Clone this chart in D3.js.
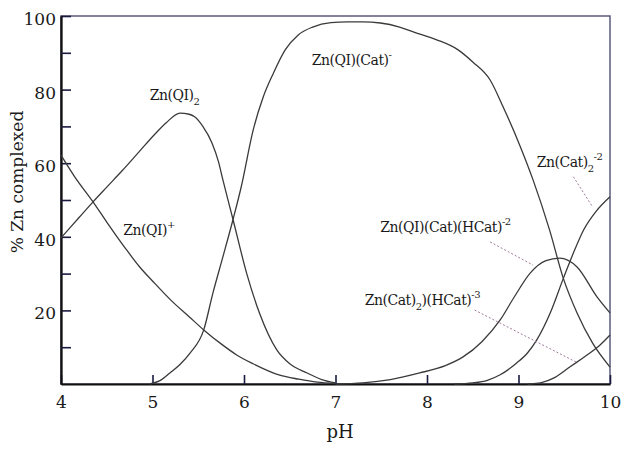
<!DOCTYPE html>
<html><head><meta charset="utf-8">
<script src="https://cdn.jsdelivr.net/npm/d3@7"></script>
<style>
body{margin:0;background:#fff}
svg{display:block}
</style>
</head><body>
<svg id="chart" width="628" height="453"></svg>
<script>
// ---- data (pH, % Zn complexed) ----
const pH_QIplus = [4.0,4.15,4.35,4.5,4.7,4.86,5.0,5.2,5.4,5.56,5.75,5.92,6.1,6.39,6.6,6.8,7.0];
const val_QIplus = [62.2,56.3,49.5,44.0,37.0,31.8,28.0,22.8,18.3,14.7,10.9,7.9,5.5,2.4,1.3,0.5,0.1];

const pH_QI2 = [4.0,4.2,4.35,4.5,4.67,4.85,5.03,5.15,5.3,5.4,5.46,5.55,5.65,5.72,5.77,5.88,6.03,6.17,6.36,6.5,6.69,6.85,7.0];
const val_QI2 = [39.7,45.3,49.5,53.5,58.0,63.0,68.0,71.0,73.6,73.3,72.6,70.0,65.5,60.5,55.4,44.7,30.0,19.2,9.2,5.5,3.0,1.2,0.3];

const pH_QICat = [4.97,5.1,5.19,5.3,5.41,5.56,5.66,5.77,5.88,5.97,6.1,6.21,6.32,6.45,6.59,6.75,6.95,7.13,7.3,7.49,7.7,7.85,8.1,8.34,8.5,8.69,8.83,9.02,9.16,9.34,9.49,9.64,9.81,10.0];
const val_QICat = [0,1.2,3.0,5.3,8.4,14.7,24.7,34.6,44.7,53.6,69.0,78.0,84.4,90.8,94.8,97.0,98.2,98.4,98.4,98.1,97.0,95.7,93.6,90.8,87.5,82.6,75.4,64.5,55.4,41.8,28.7,19.3,11.1,4.6];

const pH_QICatHCat = [7.0,7.3,7.6,7.92,8.2,8.39,8.6,8.8,8.95,9.13,9.3,9.45,9.64,9.86,10.0];
const val_QICatHCat = [0,0.3,1.2,3.0,5.0,7.3,11.5,17.4,23.5,30.2,33.5,34.2,31.8,23.6,19.3];

const pH_Cat2 = [8.3,8.5,8.66,8.8,8.98,9.1,9.2,9.35,9.49,9.6,9.71,9.85,10.0];
const val_Cat2 = [0,0.3,1.0,2.5,5.7,8.5,12.0,19.5,28.7,35.6,41.8,47.0,50.9];

const pH_Cat2HCat = [9.1,9.25,9.4,9.56,9.7,9.78,9.9,10.0];
const val_Cat2HCat = [0,0.4,1.8,4.6,7.0,8.4,10.8,13.3];

const xTicks = [4,5,6,7,8,9,10];
const yTicks = [20,40,60,80,100];
const yMinorTicks = [10,30,50,70,90];
const xTitle = "pH";
const yTitle = "% Zn complexed";

// series names as rich text parts: [text, kind]
const seriesLabels = [
  {parts:[["Zn(QI)",""],["2","sub"]], at:[4.97,77.2]},
  {parts:[["Zn(QI)",""],["+","sup"]], at:[4.68,40.5]},
  {parts:[["Zn(QI)(Cat)",""],["-","sup"]], at:[6.74,86.7]},
  {parts:[["Zn(Cat)",""],["2","sub"],["-2","sup"]], at:[9.20,58.9]},
  {parts:[["Zn(QI)(Cat)(HCat)",""],["-2","sup"]], at:[7.49,41.4]},
  {parts:[["Zn(Cat)",""],["2","sub"],[")(HCat)",""],["-3","sup"]], at:[7.32,21.5]}
];
const leaders = [
  [[9.60,56.3],[9.81,48.1]],
  [[8.69,38.6],[9.16,32.3]],
  [[8.52,20.1],[9.65,5.7]]
];

// ---- drawing ----
const FONT = '"DejaVu Serif", serif';
const svg = d3.select("#chart");
const x = d3.scaleLinear().domain([4,10]).range([61,610]);
const y = d3.scaleLinear().domain([0,100]).range([384,16]);

// frame
svg.append("rect").attr("x",x(4)).attr("y",y(100))
  .attr("width",x(10)-x(4)).attr("height",y(0)-y(100))
  .attr("fill","none").attr("stroke","#5a5a7a").attr("stroke-width",1.5);

// axes
const fs = 17;
const gx = svg.append("g").attr("transform",`translate(0,${y(0)})`)
  .call(d3.axisBottom(x).tickValues(xTicks).tickFormat(d3.format("d")).tickSize(-9).tickSizeOuter(0).tickPadding(12));
const gy = svg.append("g").attr("transform",`translate(${x(4)},0)`)
  .call(d3.axisLeft(y).tickValues(yTicks).tickFormat(d3.format("d")).tickSize(-10).tickSizeOuter(0).tickPadding(5));
const gym = svg.append("g").attr("transform",`translate(${x(4)},0)`)
  .call(d3.axisLeft(y).tickValues(yMinorTicks).tickFormat("").tickSize(-10).tickSizeOuter(0));
[gx,gy,gym].forEach(g=>{
  g.attr("font-family",null);
  g.select(".domain").attr("stroke","#111").attr("stroke-width",1.8);
  g.selectAll(".tick line").attr("stroke","#1a1a40").attr("stroke-width",1.6);
  g.selectAll(".tick text").attr("font-size",fs).attr("fill","#1a1a1a");
});
gy.selectAll(".tick text").attr("dy","0.5em");

// titles
svg.append("text").attr("x",340).attr("y",438).attr("text-anchor","middle")
  .attr("font-size",18).text(xTitle);
svg.append("text").attr("transform","translate(23,182) rotate(-90)").attr("text-anchor","middle")
  .attr("font-size",17).text(yTitle);

// curves
const line = d3.line().x(d=>x(d[0])).y(d=>y(d[1])).curve(d3.curveMonotoneX);
const series = [
  [pH_QIplus,val_QIplus],[pH_QI2,val_QI2],[pH_QICat,val_QICat],
  [pH_QICatHCat,val_QICatHCat],[pH_Cat2,val_Cat2],[pH_Cat2HCat,val_Cat2HCat]
];
series.forEach(([xs,vs])=>{
  svg.append("path").datum(xs.map((v,i)=>[v,vs[i]]))
    .attr("d",line).attr("fill","none").attr("stroke","#3a3a3a").attr("stroke-width",1.3);
});

// leader lines
leaders.forEach(l=>{
  svg.append("line").attr("x1",x(l[0][0])).attr("y1",y(l[0][1]))
    .attr("x2",x(l[1][0])).attr("y2",y(l[1][1]))
    .attr("stroke","#a07a9a").attr("stroke-width",1).attr("stroke-dasharray","2,2");
});

// series labels
seriesLabels.forEach(lab=>{
  const t = svg.append("text").attr("x",x(lab.at[0])).attr("y",y(lab.at[1]))
    .attr("font-size",14).attr("letter-spacing","-0.5");
  let shift = 0;
  lab.parts.forEach(([s,k])=>{
    const target = k==="sub"?5:(k==="sup"?-7:0);
    t.append("tspan").attr("dy",target-shift).attr("font-size",k?10:14).text(s);
    shift = target;
  });
});

svg.selectAll("text").style("font-family",FONT).style("fill","#1a1a1a");
</script>
</body></html>
